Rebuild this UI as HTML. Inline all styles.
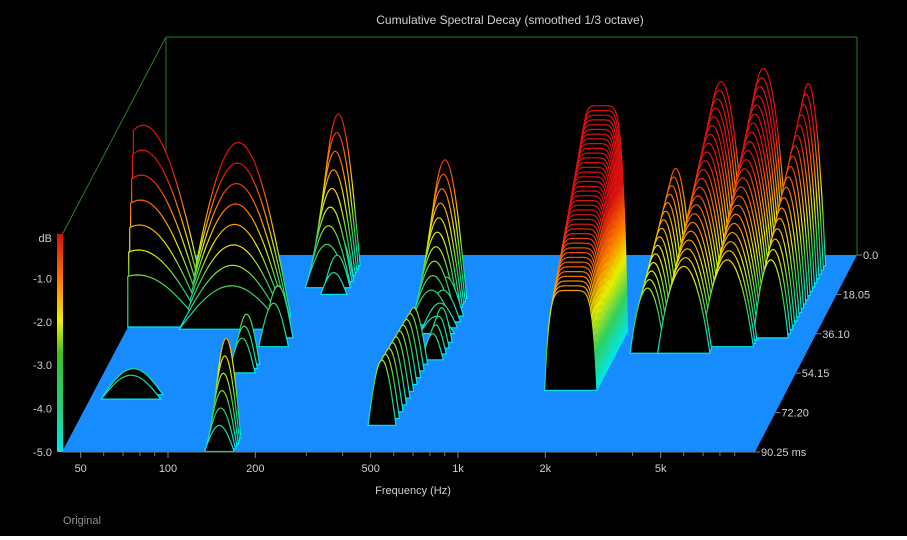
<!DOCTYPE html>
<html><head><meta charset="utf-8"><style>
html,body{margin:0;padding:0;background:#000;}
svg{display:block;font-family:"Liberation Sans",sans-serif;}
</style></head><body>
<svg id="chart" width="907" height="540" viewBox="0 0 907 540">
<defs>
<linearGradient id="cbar" x1="0" y1="1" x2="0" y2="0">
<stop offset="0" stop-color="#00e8e8"/><stop offset="0.2" stop-color="#20d080"/><stop offset="0.45" stop-color="#40c020"/><stop offset="0.6" stop-color="#f0f000"/><stop offset="0.78" stop-color="#ff8000"/><stop offset="1" stop-color="#d01010"/>
</linearGradient>
</defs>
<rect x="0" y="0" width="907" height="540" fill="#000"/>
<rect x="0" y="536" width="907" height="4" fill="#fff"/>
<text x="510" y="24" fill="#d0d0d0" font-size="12" text-anchor="middle">Cumulative Spectral Decay (smoothed 1/3 octave)</text>
<g stroke="#2a7a2a" stroke-width="1" fill="none">
<line x1="166" y1="37" x2="857" y2="37"/><line x1="166" y1="37" x2="166" y2="255"/><line x1="166" y1="37" x2="62" y2="235"/><line x1="857" y1="37" x2="857" y2="255"/>
</g>
<polygon points="62,452 755,452 857,255 166,255" fill="#168cff"/>
<g id="slices"></g>
<rect x="57" y="234" width="6" height="218" fill="url(#cbar)"/>
<line x1="62" y1="452" x2="755" y2="452" stroke="#777"/>
<g id="ylabels" fill="#d0d0d0" font-size="11" text-anchor="end"></g>
<g id="xlabels" fill="#d0d0d0" font-size="11" text-anchor="middle"></g>
<g id="tlabels" fill="#d0d0d0" font-size="11"></g>
<text x="413" y="494" fill="#d0d0d0" font-size="11" text-anchor="middle">Frequency (Hz)</text>
<text x="63" y="524" fill="#909090" font-size="11">Original</text>
</svg>
<script>
// data
const dbTicks = ["dB","-1.0","-2.0","-3.0","-4.0","-5.0"];
const freqTicks = [50,100,200,500,1000,2000,5000];
const freqTickLabels = ["50","100","200","500","1k","2k","5k"];
const minorTicks = [60,70,80,90,300,400,600,700,800,900,3000,4000,6000,7000,8000,9000];
const timeTicks = [0,18.05,36.10,54.15,72.20,90.25];
const timeTickLabels = ["0.0","18.05","36.10","54.15","72.20","90.25 ms"];
// peak groups
const peakFreq  = [47,100,180,195,480,520,1900,3000,4000,5500,7500,150,130,150,490,560,60];
const peakWidth = [0.75,0.6,0.25,0.15,0.25,0.2,0.3,0.2,0.3,0.3,0.2,0.17,0.15,0.17,0.16,0.12,0.34];
const peakT0    = [28,28,5,12,20,28,35,20,12,10,5,84,50,38,50,40,64];
const peakT1    = [33,34,15,18,32,36,62,45,45,42,38,90,54,42,78,48,66];
const peakCount = [7,8,8,3,10,4,40,15,22,22,18,6,3,2,10,4,2];
const peakAmp0  = [4.4,4.0,3.5,1.0,3.2,0.9,5.2,3.0,4.6,4.8,4.2,2.3,1.15,1.2,1.3,0.8,0.6];
const peakAmp1  = [1.2,1.0,1.0,0.5,0.8,0.4,2.3,1.5,2.0,2.0,1.8,0.6,0.8,1.0,1.5,0.6,0.55];
const peakShape = [1,1,1,1,1,1,6,2,2,2,2,1,1,1,1,1,1];

const NS="http://www.w3.org/2000/svg";
const T=90.25, FMIN=43, FMAX=10600, PXDB=43.4;
function xf(f){return 168+290*Math.log10(f/100);}
function shiftX(t){return (1-t/T)*102;}
function floorY(t){return 452-(1-t/T)*197;}
function yDb(db){return 452-(db+5)*PXDB;}

const defs=document.querySelector('defs');
const slicesG=document.getElementById('slices');
let slices=[];
for(let g=0;g<peakFreq.length;g++){
  const n=peakCount[g];
  for(let i=0;i<n;i++){
    const k=n>1?i/(n-1):0;
    slices.push({g,t:peakT0[g]+(peakT1[g]-peakT0[g])*k,a:peakAmp0[g]+(peakAmp1[g]-peakAmp0[g])*k});
  }
}
slices.sort((p,q)=>p.t-q.t);
slices.forEach((s,idx)=>{
  const g=s.g, w=peakWidth[g], fc=peakFreq[g], p=peakShape[g];
  const by=floorY(s.t), sx=shiftX(s.t);
  const pts=[];
  const N=40;
  for(let j=0;j<=N;j++){
    const d=-w+2*w*j/N;
    const f=fc*Math.pow(2,d);
    if(f<FMIN||f>FMAX) continue;
    const u=Math.abs(d/w);
    const h=p===1?Math.cos(Math.PI/2*u):Math.max(0,1-Math.pow(u,p));
    pts.push([xf(f)+sx, by-s.a*h*PXDB]);
  }
  if(pts.length<2) return;
  const first=pts[0], last=pts[pts.length-1];
  let d='M'+first[0].toFixed(1)+','+by.toFixed(1);
  pts.forEach(q=>{d+='L'+q[0].toFixed(1)+','+q[1].toFixed(1);});
  d+='L'+last[0].toFixed(1)+','+by.toFixed(1)+'Z';
  const gid='sg'+idx;
  const lg=document.createElementNS(NS,'linearGradient');
  lg.setAttribute('id',gid);lg.setAttribute('gradientUnits','userSpaceOnUse');
  lg.setAttribute('x1',0);lg.setAttribute('x2',0);lg.setAttribute('y1',by);lg.setAttribute('y2',by-150);
  [[0,'#00e8e8'],[0.25,'#30d060'],[0.5,'#e8f000'],[0.72,'#ff8000'],[1,'#e01010']].forEach(st=>{
    const e=document.createElementNS(NS,'stop');e.setAttribute('offset',st[0]);e.setAttribute('stop-color',st[1]);lg.appendChild(e);
  });
  defs.appendChild(lg);
  const path=document.createElementNS(NS,'path');
  path.setAttribute('d',d);
  path.setAttribute('fill','#000');
  path.setAttribute('stroke','url(#'+gid+')');
  path.setAttribute('stroke-width','1.2');
  
  
  slicesG.appendChild(path);
});

const yl=document.getElementById('ylabels');
dbTicks.forEach((lab,i)=>{
  const y=i===0?238:yDb(-i);
  const t=document.createElementNS(NS,'text');
  t.setAttribute('x',52);t.setAttribute('y',y+4);t.textContent=lab;
  
  
  yl.appendChild(t);
});
const xl=document.getElementById('xlabels');
freqTicks.forEach((f,i)=>{
  const x=xf(f);
  const t=document.createElementNS(NS,'text');
  t.setAttribute('x',x);t.setAttribute('y',472);t.textContent=freqTickLabels[i];
  
  
  xl.appendChild(t);
  const l=document.createElementNS(NS,'line');
  l.setAttribute('x1',x);l.setAttribute('x2',x);l.setAttribute('y1',452);l.setAttribute('y2',458);l.setAttribute('stroke','#888');
  
  
  xl.appendChild(l);
});
minorTicks.forEach(f=>{
  const x=xf(f);
  const l=document.createElementNS(NS,'line');
  l.setAttribute('x1',x);l.setAttribute('x2',x);l.setAttribute('y1',452);l.setAttribute('y2',456);l.setAttribute('stroke','#777');
  
  
  xl.appendChild(l);
});
const tl=document.getElementById('tlabels');
timeTicks.forEach((tv,i)=>{
  const x=755+shiftX(tv), y=floorY(tv);
  const l=document.createElementNS(NS,'line');
  l.setAttribute('x1',x);l.setAttribute('x2',x+5);l.setAttribute('y1',y);l.setAttribute('y2',y);l.setAttribute('stroke','#888');
  
  
  tl.appendChild(l);
  const t=document.createElementNS(NS,'text');
  t.setAttribute('x',x+6);t.setAttribute('y',y+4);t.textContent=timeTickLabels[i];
  
  
  tl.appendChild(t);
});
</script>
</body></html>
